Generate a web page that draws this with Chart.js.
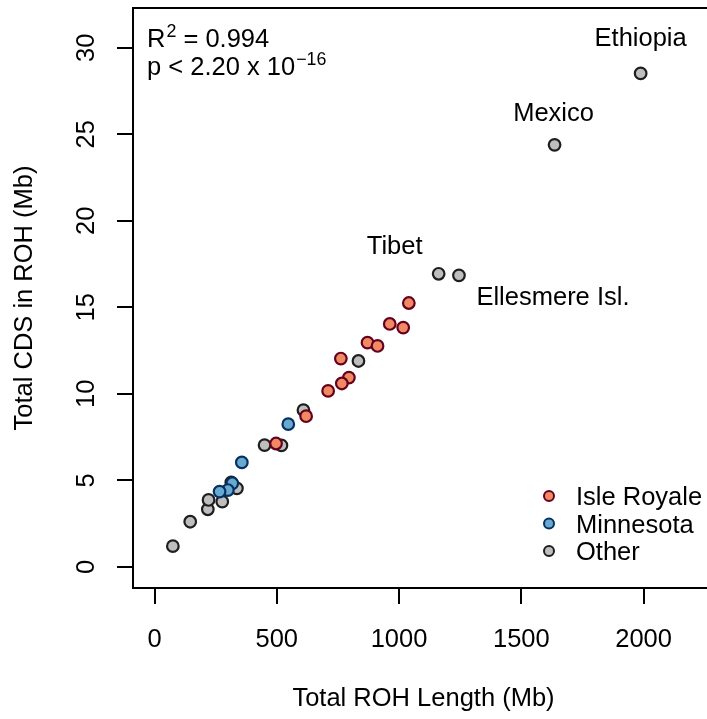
<!DOCTYPE html>
<html><head><meta charset="utf-8">
<script src="https://cdn.jsdelivr.net/npm/chart.js@4.4.1/dist/chart.umd.min.js"></script>
<style>html,body{margin:0;padding:0;background:#fff;overflow:hidden;width:707px;height:719px}canvas{display:block}</style>
</head><body>
<canvas id="c" width="730" height="719" style="width:730px;height:719px"></canvas>
<script>
// ---- data ----
const xTicks = [0, 500, 1000, 1500, 2000];
const yTicks = [0, 5, 10, 15, 20, 25, 30];
const seriesNames = ['Isle Royale', 'Minnesota', 'Other'];

const isleRoyaleX = [1040, 962, 1017, 871, 912, 762, 795, 766, 710, 620, 497];
const isleRoyaleY = [15.25, 14.04, 13.83, 12.96, 12.77, 12.04, 10.94, 10.6, 10.17, 8.71, 7.13];

const minnesotaX = [547, 357, 318, 300, 266];
const minnesotaY = [8.25, 6.04, 4.83, 4.44, 4.35];

const otherX = [75, 146, 218, 221, 277, 314, 337, 450, 519, 609, 834, 1162, 1245, 1636, 1988];
const otherY = [1.2, 2.61, 3.33, 3.87, 3.77, 4.88, 4.54, 7.04, 7.02, 9.06, 11.9, 16.94, 16.85, 24.39, 28.52];
const otherNames = ['', '', '', '', '', '', '', '', '', '', '', 'Tibet', 'Ellesmere Isl.', 'Mexico', 'Ethiopia'];

const statLine1 = {base: 'R', sup: '2', rest: ' = 0.994'};
const statLine2 = {base: 'p < 2.20 x 10', sup: '\u221216'};

// ---- styling ----
const FONT = "'Liberation Sans', Arial, Helvetica, sans-serif";
const FS = 25.5;
const fills = ['#EF8A62', '#67A9CF', '#BEBEBE'];
const edges = ['#67001F', '#053061', '#1E1E1E'];
const labelOffsets = { // pixel offsets of label (center x, baseline y) from its point
  'Tibet': [-44, -20],
  'Ellesmere Isl.': [94, 30],
  'Mexico': [-1, -24],
  'Ethiopia': [0, -27]
};

const toPts = (xs, ys) => xs.map((v, i) => ({x: v, y: ys[i]}));
const seriesX = [isleRoyaleX, minnesotaX, otherX];
const seriesY = [isleRoyaleY, minnesotaY, otherY];

const datasets = seriesNames.map((n, i) => ({
  label: n,
  data: toPts(seriesX[i], seriesY[i]),
  backgroundColor: fills[i],
  borderColor: edges[i],
  borderWidth: 2.2,
  pointRadius: 5.8,
  pointHoverRadius: 5.8
}));

const boxPlugin = {
  id: 'box',
  afterDraw(chart) {
    const {ctx, chartArea: a} = chart;
    ctx.save();
    ctx.strokeStyle = '#000';
    ctx.lineWidth = 2;
    ctx.strokeRect(a.left, a.top, a.right - a.left, a.bottom - a.top);
    ctx.restore();
  }
};

function supText(ctx, x, y, base, sup, rest) {
  ctx.font = FS + 'px ' + FONT;
  ctx.textAlign = 'left';
  ctx.textBaseline = 'alphabetic';
  ctx.fillText(base, x, y);
  let cx = x + ctx.measureText(base).width;
  ctx.font = (FS * 0.7) + 'px ' + FONT;
  ctx.fillText(sup, cx + 1, y - 10);
  cx += ctx.measureText(sup).width + 1;
  if (rest) {
    ctx.font = FS + 'px ' + FONT;
    ctx.fillText(rest, cx, y);
  }
}

const annotPlugin = {
  id: 'annot',
  afterDatasetsDraw(chart) {
    const {ctx} = chart;
    const xs = chart.scales.x, ys = chart.scales.y;
    ctx.save();
    ctx.fillStyle = '#000';
    ctx.font = FS + 'px ' + FONT;
    ctx.textAlign = 'center';
    ctx.textBaseline = 'alphabetic';
    otherNames.forEach((nm, i) => {
      if (!nm) return;
      const px = xs.getPixelForValue(otherX[i]);
      const py = ys.getPixelForValue(otherY[i]);
      const o = labelOffsets[nm];
      ctx.fillText(nm, px + o[0], py + o[1]);
    });
    const a = chart.chartArea;
    supText(ctx, a.left + 14, a.top + 39, statLine1.base, statLine1.sup, statLine1.rest);
    supText(ctx, a.left + 14, a.top + 67, statLine2.base, statLine2.sup, '');
    chart.data.datasets.forEach((ds, i) => {
      const cy = 496 + i * 27.5;
      ctx.beginPath();
      ctx.arc(549, cy, 5, 0, Math.PI * 2);
      ctx.fillStyle = ds.backgroundColor;
      ctx.fill();
      ctx.lineWidth = 2;
      ctx.strokeStyle = ds.borderColor;
      ctx.stroke();
      ctx.fillStyle = '#000';
      ctx.font = FS + 'px ' + FONT;
      ctx.textAlign = 'left';
      ctx.textBaseline = 'alphabetic';
      ctx.fillText(ds.label, 576, cy + 9);
    });
    ctx.restore();
  }
};

new Chart(document.getElementById('c'), {
  type: 'scatter',
  data: {datasets},
  plugins: [boxPlugin, annotPlugin],
  options: {
    responsive: false,
    animation: false,
    devicePixelRatio: 1,
    layout: {padding: {left: 0, top: 7, right: 16, bottom: 0}},
    plugins: {legend: {display: false}, tooltip: {enabled: false}},
    scales: {
      x: {
        type: 'linear', min: -88, max: 2288,
        afterBuildTicks: s => { s.ticks = xTicks.map(v => ({value: v})); },
        afterFit: s => { s.height = 131; s.paddingLeft = 0; s.paddingRight = 0; },
        grid: {display: true, drawOnChartArea: false, drawTicks: true, tickLength: 16, lineWidth: 2, color: '#000'},
        border: {display: false},
        ticks: {color: '#000', font: {family: FONT, size: FS}, padding: 21, maxRotation: 0, autoSkip: false, callback: v => String(v)},
        title: {display: true, text: 'Total ROH Length (Mb)', color: '#000', font: {family: FONT, size: FS}, padding: {top: 0, bottom: 5}}
      },
      y: {
        type: 'linear', min: -1.22, max: 32.3,
        afterBuildTicks: s => { s.ticks = yTicks.map(v => ({value: v})); },
        afterFit: s => { s.width = 133; s.paddingTop = 0; s.paddingBottom = 0; },
        grid: {display: true, drawOnChartArea: false, drawTicks: true, tickLength: 16, lineWidth: 2, color: '#000'},
        border: {display: false},
        ticks: {color: '#000', font: {family: FONT, size: FS}, padding: 16, minRotation: 90, maxRotation: 90, crossAlign: 'center', autoSkip: false, callback: v => String(v)},
        title: {display: true, text: 'Total CDS in ROH (Mb)', color: '#000', font: {family: FONT, size: FS}, padding: {top: 10, bottom: 0}}
      }
    }
  }
});
</script>
</body></html>
